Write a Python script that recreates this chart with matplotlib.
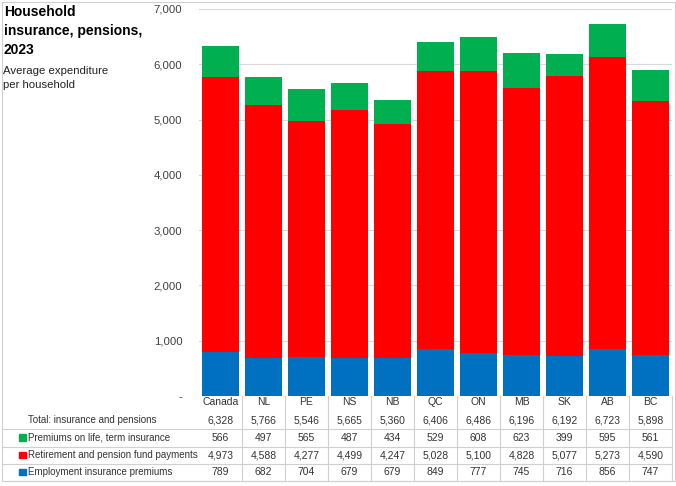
import matplotlib.pyplot as plt
import numpy as np

plt.rcParams['font.family'] = ['Liberation Sans', 'DejaVu Sans']

regions = ['Canada', 'NL', 'PE', 'NS', 'NB', 'QC', 'ON', 'MB', 'SK', 'AB', 'BC']
employment = [789, 682, 704, 679, 679, 849, 777, 745, 716, 856, 747]
retirement = [4973, 4588, 4277, 4499, 4247, 5028, 5100, 4828, 5077, 5273, 4590]
life = [566, 497, 565, 487, 434, 529, 608, 623, 399, 595, 561]
totals = [6328, 5766, 5546, 5665, 5360, 6406, 6486, 6196, 6192, 6723, 5898]

series = [
    ('Premiums on life, term insurance', life, '#00B050'),
    ('Retirement and pension fund payments', retirement, '#FF0000'),
    ('Employment insurance premiums', employment, '#0070C0'),
]

W, H = 676, 486
fig = plt.figure(figsize=(W / 100, H / 100), dpi=100)

# overlay in pixel coords for table, border and titles
ov = fig.add_axes([0, 0, 1, 1], zorder=0)
ov.set_xlim(0, W)
ov.set_ylim(H, 0)
ov.axis('off')

x0, x1 = 199, 672
y_top, y_bot = 9, 396
ax = fig.add_axes([x0 / W, 1 - y_bot / H, (x1 - x0) / W, (y_bot - y_top) / H], zorder=1)
ax.patch.set_alpha(0)

n = len(regions)
x = np.arange(n)
ax.bar(x, employment, 0.84, color='#0070C0', zorder=3)
ax.bar(x, retirement, 0.84, bottom=employment, color='#FF0000', zorder=3)
ax.bar(x, life, 0.84, bottom=np.array(employment) + np.array(retirement), color='#00B050', zorder=3)

ax.set_xlim(-0.5, n - 0.5)
ax.set_ylim(0, 7000)
yt = np.arange(0, 7001, 1000)
ax.set_yticks(yt)
ax.set_yticklabels(['-'] + [f'{v:,}' for v in yt[1:]], fontsize=8.2, color='#404040')
ax.tick_params(axis='y', length=0, pad=12)
ax.set_xticks([])
ax.grid(axis='y', color='#d9d9d9', linewidth=0.8, zorder=0)
for s in ax.spines.values():
    s.set_visible(False)

# titles
ov.text(4, 5, 'Household\ninsurance, pensions,\n2023', fontsize=10, fontweight='bold',
        va='top', ha='left', linespacing=1.45)
ov.text(3, 66, 'Average expenditure\nper household', fontsize=8.2, va='top', ha='left',
        linespacing=1.45, color='#222222')

# table
colw = (x1 - x0) / n
centers = [x0 + colw * (i + 0.5) for i in range(n)]
line_c = '#d0d0d0'
txt_c = '#333333'
row_y = [402, 420, 437.5, 455, 472]
for i, r in enumerate(regions):
    ov.text(centers[i], row_y[0], r, fontsize=7.5, ha='center', va='center', color=txt_c)
    ov.text(centers[i], row_y[1], f'{totals[i]:,}', fontsize=7.5, ha='center', va='center', color=txt_c)
ov.text(28, row_y[1], 'Total: insurance and pensions', fontsize=7, ha='left', va='center', color=txt_c)
for k, (name, vals, col) in enumerate(series):
    yy = row_y[k + 2]
    ov.add_patch(plt.Rectangle((19, yy - 3.2), 6.5, 6.5, color=col))
    ov.text(28.5, yy, name, fontsize=7, ha='left', va='center', color=txt_c)
    for i in range(n):
        ov.text(centers[i], yy, f'{vals[i]:,}', fontsize=7.5, ha='center', va='center', color=txt_c)

for yy in [429, 446.5, 463.5, 481]:
    ov.plot([2, x1], [yy, yy], color=line_c, lw=0.8)
for i in range(1, n + 1):
    xx = x0 + colw * i
    ov.plot([xx, xx], [y_bot, 481], color=line_c, lw=0.8)

# outer border
ov.plot([2, 2, W - 1, W - 1, 2], [2, 481, 481, 2, 2], color=line_c, lw=0.8)

fig.savefig('out.png', dpi=100)
